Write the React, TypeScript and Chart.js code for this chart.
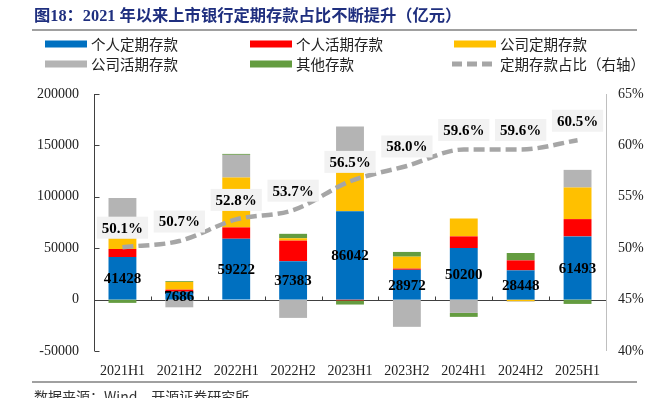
import React, { useEffect, useRef } from 'react';
import { Chart, registerables } from 'chart.js';

Chart.register(...registerables);

// ---------- data ----------
const categories = ['2021H1', '2021H2', '2022H1', '2022H2', '2023H1', '2023H2', '2024H1', '2024H2', '2025H1'];
const personalTime = [41428, 7686, 59222, 37383, 86042, 28972, 50200, 28448, 61493];
const personalDemand = [7800, 2000, 11000, 20000, -800, 1200, 11300, 9700, 16800];
const corporateTime = [10300, 7500, 48500, 2300, 46000, 11600, 17400, -1500, 30700];
const corporateDemand = [39200, -7500, 22100, -17800, 36300, -26500, -12900, -600, 17200];
const otherDeposits = [-3200, 800, 900, 4300, -4000, 4600, -3900, 7200, -4200];
const timeShare = [50.1, 50.7, 52.8, 53.7, 56.5, 58.0, 59.6, 59.6, 60.5];

const leftMin = -50000;
const leftMax = 200000;
const leftStep = 50000;
const rightMin = 40;
const rightMax = 65;
const rightStep = 5;

const titleText = '图18：2021 年以来上市银行定期存款占比不断提升（亿元）';
const sourceText = '数据来源：Wind、开源证券研究所';
const seriesNames = ['个人定期存款', '个人活期存款', '公司定期存款', '公司活期存款', '其他存款', '定期存款占比（右轴）'];
const seriesColors = ['#0070C0', '#FF0000', '#FFC000', '#B4B4B4', '#649C40', '#A6A6A6'];

const SERIF = '"Liberation Serif", "Noto Sans CJK SC", serif';
const CJK = '"Noto Sans CJK SC", "Liberation Serif", sans-serif';

export default function App() {
  const ref = useRef<HTMLCanvasElement>(null);

  useEffect(() => {
    const canvas = ref.current;
    if (!canvas) return;

    const decor = {
      id: 'decor',
      beforeDatasetsDraw(chart: any) {
        const ctx = chart.ctx;
        const area = chart.chartArea;
        const ys = chart.scales.y;
        const xs = chart.scales.x;
        ctx.save();
        ctx.strokeStyle = '#404040';
        ctx.lineWidth = 1;
        const lx = Math.round(area.left) + 0.5;
        ctx.beginPath();
        ctx.moveTo(lx, area.top);
        ctx.lineTo(lx, area.bottom);
        ys.ticks.forEach((t: any) => {
          const py = Math.round(ys.getPixelForValue(t.value)) + 0.5;
          ctx.moveTo(lx, py);
          ctx.lineTo(lx + 5, py);
        });
        ctx.stroke();
        const y0 = Math.round(ys.getPixelForValue(0)) + 0.5;
        ctx.beginPath();
        ctx.moveTo(area.left, y0);
        ctx.lineTo(area.right, y0);
        for (let i = 0; i < categories.length - 1; i++) {
          const px = Math.round((xs.getPixelForValue(i) + xs.getPixelForValue(i + 1)) / 2) + 0.5;
          ctx.moveTo(px, y0);
          ctx.lineTo(px, y0 - 4);
        }
        ctx.stroke();
        ctx.strokeStyle = '#BFBFBF';
        const rx = Math.round(area.right) + 0.5;
        ctx.beginPath();
        ctx.moveTo(rx, area.top);
        ctx.lineTo(rx, area.bottom);
        ctx.stroke();
        ctx.restore();
      },
      afterDatasetsDraw(chart: any) {
        const ctx = chart.ctx;
        ctx.save();
        const barMeta = chart.getDatasetMeta(0);
        ctx.font = 'bold 15px ' + SERIF;
        ctx.fillStyle = '#000';
        ctx.textAlign = 'center';
        ctx.textBaseline = 'middle';
        barMeta.data.forEach((bar: any, i: number) => {
          const cy = (bar.y + bar.base) / 2;
          ctx.fillText(String(personalTime[i]), bar.x, cy + 1);
        });
        const lineMeta = chart.getDatasetMeta(5);
        lineMeta.data.forEach((pt: any, i: number) => {
          const txt = timeShare[i].toFixed(1) + '%';
          ctx.font = 'bold 15px ' + SERIF;
          const w = ctx.measureText(txt).width + 10;
          const h = 22;
          const cx = pt.x;
          const cy = pt.y - 19.5;
          ctx.fillStyle = '#F2F2F2';
          ctx.fillRect(cx - w / 2, cy - h / 2, w, h);
          ctx.fillStyle = '#000';
          ctx.fillText(txt, cx, cy + 1);
        });
        ctx.restore();
      },
      afterDraw(chart: any) {
        const ctx = chart.ctx;
        ctx.save();
        ctx.font = 'bold 16.3px ' + SERIF;
        ctx.fillStyle = '#1F2F7F';
        ctx.textAlign = 'left';
        ctx.textBaseline = 'middle';
        ctx.fillText(titleText, 34, 17);
        ctx.strokeStyle = '#A0A0A0';
        ctx.lineWidth = 2;
        ctx.beginPath();
        ctx.moveTo(32, 30);
        ctx.lineTo(637, 30);
        ctx.moveTo(32, 382);
        ctx.lineTo(637, 382);
        ctx.stroke();
        const colX = [45, 250, 454];
        const rowY = [44, 64];
        ctx.font = '14.5px ' + CJK;
        ctx.textBaseline = 'middle';
        seriesNames.forEach((name, i) => {
          const sx = colX[i % 3];
          const sy = rowY[Math.floor(i / 3)];
          if (i < 5) {
            ctx.fillStyle = seriesColors[i];
            ctx.fillRect(sx, sy - 3.5, 42, 7);
          } else {
            ctx.strokeStyle = seriesColors[i];
            ctx.lineWidth = 5;
            ctx.setLineDash([10, 5]);
            ctx.beginPath();
            ctx.moveTo(sx - 2, sy);
            ctx.lineTo(sx + 40, sy);
            ctx.stroke();
            ctx.setLineDash([]);
          }
          ctx.fillStyle = '#222';
          ctx.fillText(name, sx + 46, sy);
        });
        ctx.font = '14px ' + CJK;
        ctx.fillStyle = '#333';
        ctx.fillText(sourceText, 34, 397);
        ctx.restore();
      },
    };

    const barDs = (label: string, data: number[], color: string) => ({
      type: 'bar' as const,
      label,
      data,
      backgroundColor: color,
      borderWidth: 0,
      stack: 's',
      yAxisID: 'y',
      order: 1,
      barPercentage: 0.49,
      categoryPercentage: 1,
    });

    const tickFont = { family: '"Liberation Serif", serif', size: 14 };

    const chart = new Chart(canvas, {
      type: 'bar',
      data: {
        labels: categories,
        datasets: [
          barDs(seriesNames[0], personalTime, seriesColors[0]),
          barDs(seriesNames[1], personalDemand, seriesColors[1]),
          barDs(seriesNames[2], corporateTime, seriesColors[2]),
          barDs(seriesNames[3], corporateDemand, seriesColors[3]),
          barDs(seriesNames[4], otherDeposits, seriesColors[4]),
          {
            type: 'line' as const,
            label: seriesNames[5],
            data: timeShare,
            yAxisID: 'y1',
            borderColor: seriesColors[5],
            borderWidth: 4.5,
            borderDash: [11, 5],
            pointRadius: 0,
            cubicInterpolationMode: 'monotone',
            fill: false,
            order: 0,
          } as any,
        ],
      },
      options: {
        animation: false,
        responsive: false,
        layout: { padding: { top: 94, left: 0, right: 0, bottom: 0 } },
        plugins: {
          legend: { display: false },
          title: { display: false },
          tooltip: { enabled: false },
        },
        scales: {
          x: {
            stacked: true,
            grid: { display: false, drawTicks: false },
            border: { display: false },
            ticks: { font: tickFont, color: '#222', padding: 12, maxRotation: 0, autoSkip: false },
            afterFit: (s: any) => { s.height = 47; },
          },
          y: {
            stacked: true,
            position: 'left',
            min: leftMin,
            max: leftMax,
            grid: { display: false, drawTicks: false },
            border: { display: false },
            ticks: { stepSize: leftStep, font: tickFont, color: '#222', padding: 15, callback: (v: any) => String(v) },
            afterFit: (s: any) => { s.width = 94; },
          },
          y1: {
            position: 'right',
            min: rightMin,
            max: rightMax,
            grid: { display: false, drawTicks: false },
            border: { display: false },
            ticks: { stepSize: rightStep, font: tickFont, color: '#222', padding: 12, callback: (v: any) => v + '%' },
            afterFit: (s: any) => { s.width = 57; },
          },
        },
      } as any,
      plugins: [decor],
    });

    return () => chart.destroy();
  }, []);

  return (
    <div style={{ position: 'absolute', left: 0, top: 0, width: 663, height: 398, background: '#fff' }}>
      <canvas ref={ref} width={663} height={398} style={{ display: 'block' }} />
    </div>
  );
}
